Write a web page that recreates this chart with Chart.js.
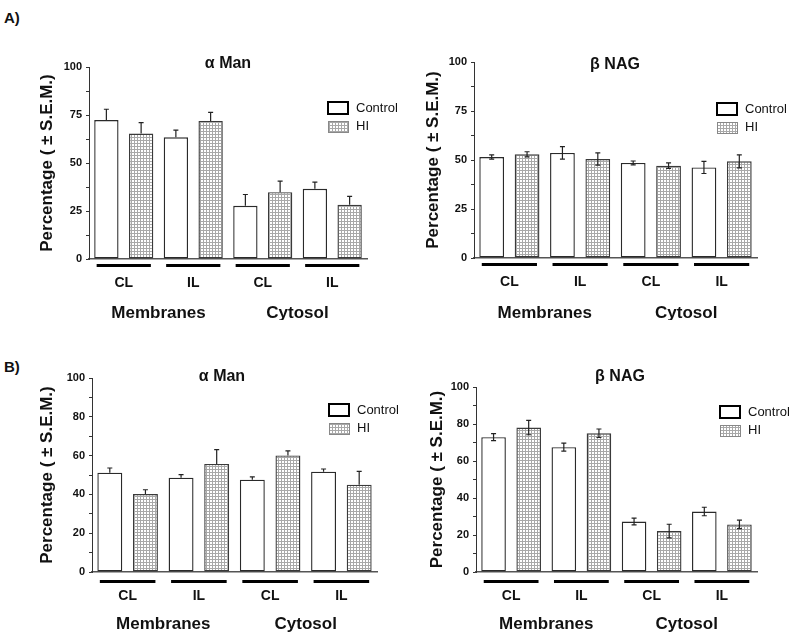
<!DOCTYPE html>
<html>
<head>
<meta charset="utf-8">
<script src="https://cdn.jsdelivr.net/npm/chart.js@4.4.1/dist/chart.umd.min.js"></script>
<style>
  body { margin: 0; background: #fff; width: 800px; height: 637px; position: relative; overflow: hidden; }
  canvas { position: absolute; }
  .tag { position: absolute; font: bold 15px Arial, "Liberation Sans", sans-serif; color: #111; }
</style>
</head>
<body>
<div class="tag" style="left:4px;top:9px">A)</div>
<div class="tag" style="left:4px;top:358px">B)</div>
<canvas id="aMan" width="400" height="320" style="left:0;top:0"></canvas>
<canvas id="aNag" width="400" height="320" style="left:400px;top:0"></canvas>
<canvas id="bMan" width="400" height="317" style="left:0;top:320px"></canvas>
<canvas id="bNag" width="400" height="317" style="left:400px;top:320px"></canvas>
<script>
var FONT = 'Arial, "Liberation Sans", sans-serif';

// categories
var groups = ['CL', 'IL', 'CL', 'IL'];
var fractions = ['Membranes', 'Cytosol'];
var seriesNames = ['Control', 'HI'];
var yTicksA = [0, 25, 50, 75, 100];
var yTicksB = [0, 20, 40, 60, 80, 100];

// A) alpha Man (error bars up only)
var aManControl = [72.4, 63.4, 27.7, 36.6];
var aManControlSem = [5.6, 3.7, 5.9, 3.4];
var aManHI = [65.3, 71.9, 34.8, 28.2];
var aManHISem = [5.7, 4.5, 5.8, 4.4];

// A) beta NAG
var aNagControl = [51.5, 53.6, 48.5, 46.2];
var aNagControlSem = [1.1, 3.2, 1.0, 3.1];
var aNagHI = [52.9, 50.5, 47.1, 49.3];
var aNagHISem = [1.3, 3.1, 1.4, 3.3];

// B) alpha Man
var bManControl = [51.2, 48.6, 47.6, 51.7];
var bManControlSem = [2.4, 1.6, 1.4, 1.4];
var bManHI = [40.2, 55.7, 60.1, 45.0];
var bManHISem = [2.2, 7.4, 2.3, 6.9];

// B) beta NAG
var bNagControl = [72.9, 67.5, 27.3, 32.7];
var bNagControlSem = [1.9, 2.2, 1.8, 2.3];
var bNagHI = [78.1, 75.0, 22.1, 25.7];
var bNagHISem = [3.9, 2.3, 3.7, 2.3];

function dotPattern() {
    var c = document.createElement('canvas');
    c.width = 3;
    c.height = 3;
    var x = c.getContext('2d');
    x.fillStyle = '#fff';
    x.fillRect(0, 0, 3, 3);
    x.fillStyle = '#a8a8a8';
    x.fillRect(0, 2, 3, 1);
    x.fillRect(2, 0, 1, 3);
    return x.createPattern(c, 'repeat');
}

// error bars, group underlines, titles and the little legend
var panelDecor = {
    id: 'panelDecor',
    afterDatasetsDraw: function (chart, args, o) {
        var ctx = chart.ctx;
        var xs = chart.scales.x, ys = chart.scales.y;
        ctx.save();
        ctx.strokeStyle = '#222';
        ctx.lineWidth = 1.2;
        chart.data.datasets.forEach(function (ds, di) {
            chart.getDatasetMeta(di).data.forEach(function (bar, i) {
                var v = ds.data[i], e = ds.sem[i];
                var top = ys.getPixelForValue(v + e);
                var bot = o.twoSided ? ys.getPixelForValue(v - e) : ys.getPixelForValue(v);
                ctx.beginPath();
                ctx.moveTo(bar.x, top);
                ctx.lineTo(bar.x, bot);
                ctx.moveTo(bar.x - 2.5, top);
                ctx.lineTo(bar.x + 2.5, top);
                if (o.twoSided) {
                    ctx.moveTo(bar.x - 2.5, bot);
                    ctx.lineTo(bar.x + 2.5, bot);
                }
                ctx.stroke();
            });
        });

        // thick lines under each pair
        var catW = xs.getPixelForValue(1) - xs.getPixelForValue(0);
        ctx.fillStyle = '#000';
        groups.forEach(function (g, i) {
            var cx = xs.getPixelForValue(i);
            ctx.fillRect(cx - catW * 0.39, chart.chartArea.bottom + o.lineGap, catW * 0.78, 3);
        });

        ctx.textAlign = 'center';
        ctx.textBaseline = 'middle';
        ctx.fillStyle = '#111';
        ctx.font = 'bold 17px ' + FONT;
        fractions.forEach(function (f, i) {
            var cx = (xs.getPixelForValue(2 * i) + xs.getPixelForValue(2 * i + 1)) / 2;
            ctx.fillText(f, cx, o.fractionY);
        });

        ctx.font = 'bold 16px ' + FONT;
        ctx.fillText(o.title, o.titleX, o.titleY);

        // legend
        ctx.textAlign = 'left';
        ctx.font = '13px ' + FONT;
        var lx = o.legendX, ly = o.legendY;
        ctx.fillStyle = '#fff';
        ctx.fillRect(lx, ly, 20, 12);
        ctx.lineWidth = 2;
        ctx.strokeStyle = '#000';
        ctx.strokeRect(lx, ly, 20, 12);
        ctx.fillStyle = chart.data.datasets[1].backgroundColor;
        ctx.fillRect(lx, ly + 19, 20, 11);
        ctx.lineWidth = 1;
        ctx.strokeStyle = '#888';
        ctx.strokeRect(lx + 0.5, ly + 19.5, 20, 11);
        ctx.fillStyle = '#111';
        ctx.fillText(seriesNames[0], lx + 28, ly + 6);
        ctx.fillText(seriesNames[1], lx + 28, ly + 24);
        ctx.restore();
    }
};

function makePanel(id, p) {
    var canvas = document.getElementById(id);
    var ctx = canvas.getContext('2d');
    var W = canvas.width, H = canvas.height;
    var padLeft = p.yTitleX - 10.2;
    return new Chart(ctx, {
        type: 'bar',
        data: {
            labels: groups,
            datasets: [{
                label: seriesNames[0],
                data: p.control,
                sem: p.controlSem,
                backgroundColor: '#fff',
                borderColor: '#2a2a2a',
                borderWidth: 1.4,
                borderSkipped: false
            }, {
                label: seriesNames[1],
                data: p.hi,
                sem: p.hiSem,
                backgroundColor: dotPattern(),
                borderColor: '#3a3a3a',
                borderWidth: 1.4,
                borderSkipped: false
            }]
        },
        options: {
            responsive: false,
            animation: false,
            events: [],
            categoryPercentage: 1,
            barPercentage: 0.7,
            layout: { padding: { left: padLeft, right: W - p.right, top: p.top, bottom: 0 } },
            plugins: {
                legend: { display: false },
                tooltip: { enabled: false },
                panelDecor: {
                    twoSided: p.twoSided,
                    title: p.title,
                    titleX: p.titleX,
                    titleY: p.titleY,
                    legendX: p.legendX,
                    legendY: p.legendY,
                    lineGap: p.lineGap,
                    fractionY: p.fractionY
                }
            },
            scales: {
                x: {
                    offset: true,
                    grid: { display: false, drawTicks: false },
                    border: { display: true, color: '#555', width: 1.5 },
                    ticks: { color: '#111', padding: 16, font: { family: FONT, size: 14, weight: 'bold' } },
                    afterFit: function (s) { s.height = H - p.bottom; }
                },
                y: {
                    min: 0,
                    max: 100,
                    ticks: {
                        stepSize: p.step / 2,
                        autoSkip: false,
                        padding: 4,
                        color: '#111',
                        font: { family: FONT, size: 11, weight: 'bold' },
                        callback: function (v) { return p.yTicks.indexOf(v) >= 0 ? v : ''; }
                    },
                    grid: { drawOnChartArea: false, drawTicks: true, tickLength: 3, color: '#333' },
                    border: { color: '#333', width: 1 },
                    title: {
                        display: true,
                        text: 'Percentage ( ± S.E.M.)',
                        color: '#111',
                        padding: 0,
                        font: { family: FONT, size: 17, weight: 'bold' }
                    },
                    afterFit: function (s) { s.width = p.left - padLeft; }
                }
            }
        },
        plugins: [panelDecor]
    });
}

makePanel('aMan', {
    control: aManControl, controlSem: aManControlSem, hi: aManHI, hiSem: aManHISem,
    twoSided: false, yTicks: yTicksA, step: 25, title: 'α Man',
    left: 89, right: 367, top: 67, bottom: 259, yTitleX: 47,
    titleX: 228, titleY: 64, legendX: 328, legendY: 102, lineGap: 5, fractionY: 313
});
makePanel('aNag', {
    control: aNagControl, controlSem: aNagControlSem, hi: aNagHI, hiSem: aNagHISem,
    twoSided: true, yTicks: yTicksA, step: 25, title: 'β NAG',
    left: 74, right: 357, top: 62, bottom: 258, yTitleX: 33,
    titleX: 215, titleY: 65, legendX: 317, legendY: 103, lineGap: 5, fractionY: 313
});
makePanel('bMan', {
    control: bManControl, controlSem: bManControlSem, hi: bManHI, hiSem: bManHISem,
    twoSided: false, yTicks: yTicksB, step: 20, title: 'α Man',
    left: 92, right: 377, top: 58, bottom: 252, yTitleX: 47,
    titleX: 222, titleY: 57, legendX: 329, legendY: 84, lineGap: 8, fractionY: 304
});
makePanel('bNag', {
    control: bNagControl, controlSem: bNagControlSem, hi: bNagHI, hiSem: bNagHISem,
    twoSided: true, yTicks: yTicksB, step: 20, title: 'β NAG',
    left: 76, right: 357, top: 67, bottom: 252, yTitleX: 37,
    titleX: 220, titleY: 57, legendX: 320, legendY: 86, lineGap: 8, fractionY: 304
});
</script>
</body>
</html>
